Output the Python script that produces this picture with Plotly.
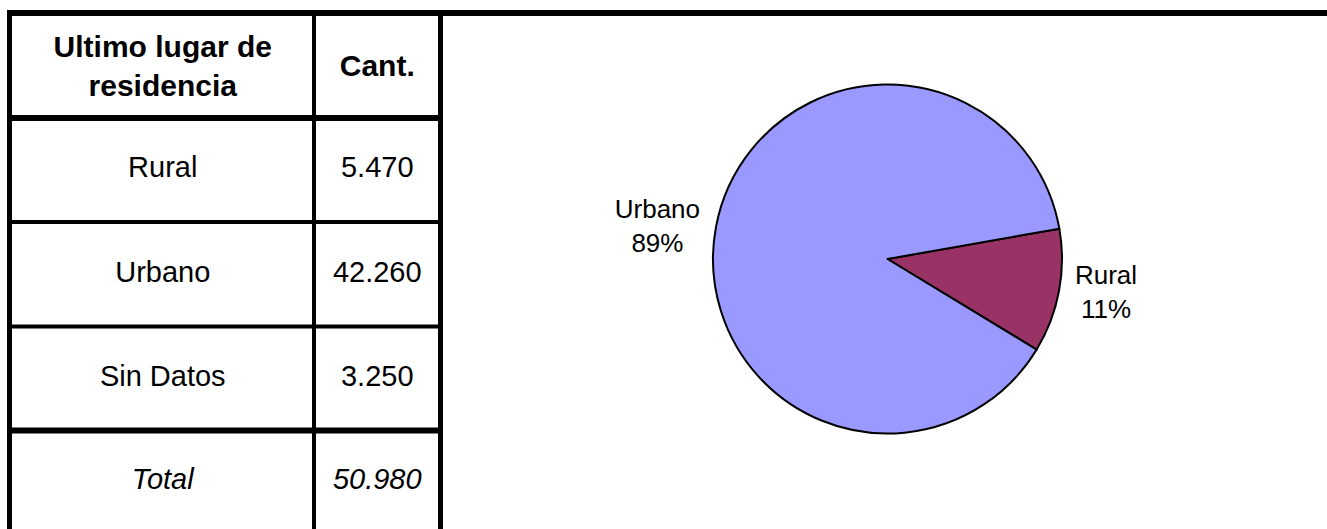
import plotly.graph_objects as go

# ---- data ----
categories = ["Rural", "Urbano", "Sin Datos"]
counts = [5470, 42260, 3250]
total_label = "Total"
header_labels = ["Ultimo lugar de<br>residencia", "Cant."]
pie_labels = ["Rural", "Urbano"]
pie_values = [counts[0], counts[1]]
pie_colors = ["#993366", "#9999FF"]

def fmt(n):
    return f"{n:,}".replace(",", ".")

W, H = 1327, 529
FONT = "Liberation Sans, Arial, sans-serif"

# ---- table geometry (layout) ----
x_left, x_mid, x_right = 9.5, 314, 440.5
row_lines = [13, 118, 222, 326.5, 430.5]
col_centers = [(x_left + x_mid) / 2 + 1, (x_mid + x_right) / 2]

fig = go.Figure()

shapes = []
def hline(y, x0, x1, w):
    shapes.append(dict(type="line", xref="x", yref="y", x0=x0, x1=x1, y0=y, y1=y,
                       line=dict(color="black", width=w)))
def vline(x, y0, y1, w):
    shapes.append(dict(type="line", xref="x", yref="y", x0=x, x1=x, y0=y0, y1=y1,
                       line=dict(color="black", width=w)))

hline(row_lines[0], 7, W, 6)          # top border, full width
hline(row_lines[1], 7, x_right + 2.5, 6)
hline(row_lines[2], 7, x_right + 2.5, 4)
hline(row_lines[3], 7, x_right + 2.5, 4)
hline(row_lines[4], 7, x_right + 2.5, 6)
vline(x_left, 10, H, 5)
vline(x_mid, 10, H, 4)
vline(x_right, 10, H, 5)

# header text
hdr_y = (row_lines[0] + row_lines[1]) / 2 + 3
fig.add_trace(go.Scatter(
    x=col_centers, y=[hdr_y, hdr_y], mode="text",
    text=[f"<b>{t}</b>" for t in header_labels],
    textposition="middle center",
    textfont=dict(family=FONT, size=30, color="black"),
    hoverinfo="skip", showlegend=False))

# body rows
row_centers = [(row_lines[i + 1] + row_lines[i + 2]) / 2 for i in range(len(categories))]
fig.add_trace(go.Scatter(
    x=[col_centers[0]] * len(categories) + [col_centers[1]] * len(categories),
    y=row_centers + row_centers,
    mode="text",
    text=categories + [fmt(c) for c in counts],
    textposition="middle center",
    textfont=dict(family=FONT, size=29, color="black"),
    hoverinfo="skip", showlegend=False))

# total row
tot_y = (row_lines[4] + H) / 2 + 2
fig.add_trace(go.Scatter(
    x=col_centers, y=[tot_y, tot_y], mode="text",
    text=[f"<i>{total_label}</i>", f"<i>{fmt(sum(counts))}</i>"],
    textposition="middle center",
    textfont=dict(family=FONT, size=29, color="black"),
    hoverinfo="skip", showlegend=False))

# pie
cx, cy, r = 887.5, 259, 174.5
fig.add_trace(go.Pie(
    labels=pie_labels, values=pie_values, sort=False, direction="clockwise",
    rotation=80,
    marker=dict(colors=pie_colors, line=dict(color="black", width=2)),
    textposition="outside",
    texttemplate="%{label}<br>%{percent:.0%}",
    textfont=dict(family=FONT, size=26, color="black"),
    domain=dict(x=[(cx - r) / W, (cx + r) / W], y=[(H - cy - r) / H, (H - cy + r) / H]),
    showlegend=False, hoverinfo="skip"))

fig.update_layout(
    width=W, height=H,
    margin=dict(l=0, r=0, t=0, b=0),
    paper_bgcolor="white", plot_bgcolor="white",
    xaxis=dict(range=[0, W], visible=False, fixedrange=True),
    yaxis=dict(range=[H, 0], visible=False, fixedrange=True),
    shapes=shapes,
)

fig.write_html("out.html", config={"displayModeBar": False},
               post_script="document.body.style.margin='0px';")
